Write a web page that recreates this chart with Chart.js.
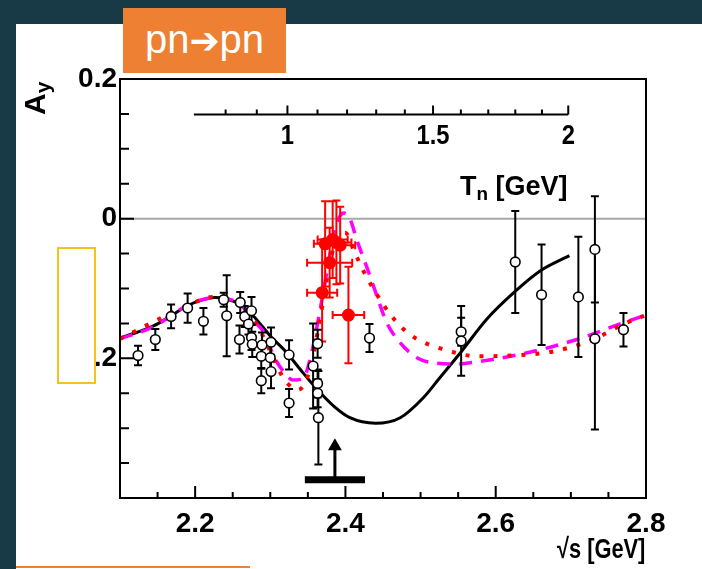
<!DOCTYPE html>
<html>
<head>
<meta charset="utf-8">
<script src="https://cdn.jsdelivr.net/npm/chart.js@4.4.1/dist/chart.umd.min.js"></script>
<style>
  html, body { margin: 0; padding: 0; }
  body { width: 702px; height: 569px; background: #183a47; position: relative; overflow: hidden; }
  .panel { position: absolute; left: 16px; top: 24px; width: 686px; height: 545px; background: #fff; }
  canvas { position: absolute; left: 0; top: 0; }
  .tag { position: absolute; left: 123px; top: 8px; width: 163px; height: 65px; background: #ed8033; color: #fff;
         font: 40px "Liberation Sans", Arial, sans-serif; line-height: 62px; text-align: center; }
  .tag span { font-family: "DejaVu Sans", sans-serif; font-size: 36px; }
  .lbl { position: absolute; font-family: "Liberation Sans", Arial, sans-serif; font-weight: bold; color: #000; white-space: nowrap; }
  .lbl sub { font-size: 70%; vertical-align: -0.25em; }
  .ay { left: 20px; top: 115px; font-size: 30px; line-height: 30px; transform-origin: 0 0; transform: rotate(-90deg); }
  .tn { left: 460px; top: 171px; font-size: 27px; }
  .sqs { right: 57px; top: 533px; font-size: 28px; transform-origin: 100% 50%; transform: scaleX(0.78); }
  .box { position: absolute; left: 57px; top: 247px; width: 39px; height: 137px; box-sizing: border-box; border: 2px solid #f5c21b; background: #fff; }
  .line { position: absolute; left: 16px; top: 566px; width: 234px; height: 2px; background: #ed8033; }
</style>
</head>
<body>
<div class="panel"></div>
<canvas id="ayChart" width="702" height="569"></canvas>
<div class="tag">pn<span>➔</span>pn</div>
<div class="lbl ay">A<sub>y</sub></div>
<div class="lbl tn">T<sub>n</sub> [GeV]</div>
<div class="lbl sqs">√s [GeV]</div>
<div class="box"></div>
<div class="line"></div>
<script>
// data (x = sqrt(s) in GeV, y = A_y)
const openX = [2.124, 2.147, 2.168, 2.190, 2.211, 2.238, 2.242, 2.260, 2.259, 2.266, 2.275, 2.271, 2.275, 2.276,
  2.289, 2.288, 2.288, 2.301, 2.300, 2.301, 2.325, 2.325, 2.357, 2.363, 2.363, 2.363, 2.364, 2.432,
  2.554, 2.554, 2.626, 2.661, 2.710, 2.732, 2.732, 2.770];
const openY = [-0.196, -0.173, -0.140, -0.128, -0.147, -0.116, -0.139, -0.120, -0.173, -0.140, -0.132, -0.151, -0.170, -0.180,
  -0.181, -0.197, -0.232, -0.177, -0.199, -0.219, -0.195, -0.264, -0.211, -0.179, -0.236, -0.250, -0.285, -0.171,
  -0.162, -0.175, -0.062, -0.109, -0.112, -0.044, -0.172, -0.159];
const openErr = [0.014, 0.015, 0.017, 0.021, 0.019, 0.010, 0.058, 0.015, 0.020, 0.015, 0.020, 0.015, 0.018, 0.018,
  0.018, 0.018, 0.018, 0.021, 0.018, 0.024, 0.021, 0.020, 0.061, 0.020, 0.020, 0.020, 0.067, 0.020,
  0.020, 0.050, 0.073, 0.072, 0.086, 0.076, 0.130, 0.024];

const redX = [2.369, 2.404, 2.373, 2.379, 2.383, 2.388, 2.393];
const redY = [-0.106, -0.138, -0.036, -0.063, -0.030, -0.034, -0.038];
const redXErr = [0.020, 0.021, 0.015, 0.030, 0.020, 0.020, 0.020];
const redYErr = [0.070, 0.069, 0.061, 0.050, 0.055, 0.060, 0.055];

const solidX = [2.1, 2.122, 2.144, 2.167, 2.189, 2.211, 2.226, 2.242, 2.26, 2.278, 2.3, 2.322, 2.34, 2.362, 2.384,
  2.406, 2.44, 2.473, 2.504, 2.524, 2.553, 2.588, 2.624, 2.659, 2.698];
const solidY = [-0.171, -0.163, -0.154, -0.140, -0.125, -0.116, -0.113, -0.115, -0.123, -0.140, -0.168, -0.192, -0.216, -0.244, -0.268,
  -0.285, -0.293, -0.285, -0.256, -0.230, -0.192, -0.144, -0.106, -0.075, -0.053];

const dashX = [2.1, 2.144, 2.189, 2.224, 2.26, 2.278, 2.291, 2.306, 2.317, 2.33, 2.344, 2.355, 2.364, 2.375, 2.386,
  2.398, 2.406, 2.415, 2.428, 2.442, 2.455, 2.473, 2.495, 2.522, 2.55, 2.575, 2.642, 2.708, 2.77, 2.8];
const dashY = [-0.172, -0.155, -0.125, -0.113, -0.123, -0.147, -0.162, -0.200, -0.218, -0.231, -0.228, -0.192, -0.144, -0.078, -0.015,
  0.008, 0.000, -0.030, -0.068, -0.111, -0.149, -0.178, -0.199, -0.207, -0.208, -0.205, -0.192, -0.173, -0.149, -0.138];

const dotX = [2.1, 2.189, 2.224, 2.26, 2.28, 2.3, 2.313, 2.322, 2.337, 2.35, 2.36, 2.37, 2.38, 2.39, 2.4,
  2.411, 2.424, 2.451, 2.468, 2.486, 2.504, 2.53, 2.575, 2.619, 2.677, 2.73, 2.77, 2.8];
const dotY = [-0.172, -0.125, -0.112, -0.122, -0.148, -0.190, -0.220, -0.235, -0.245, -0.225, -0.180, -0.120, -0.060, -0.025, -0.020,
  -0.045, -0.075, -0.124, -0.148, -0.166, -0.177, -0.187, -0.197, -0.196, -0.190, -0.173, -0.151, -0.138];

// threshold bar and arrow
const barX = [2.346, 2.426];
const barY = -0.374;
const arrowX = 2.386;
const arrowTop = -0.33;
const arrowHeadY = -0.326;

const xTickLabels = [2.2, 2.4, 2.6, 2.8];
const yTickLabels = [0.2, 0, -0.2];
const tnMajor = [1, 1.5, 2];
const tnMinor = [0.8, 0.9, 1.1, 1.2, 1.3, 1.4, 1.6, 1.7, 1.8, 1.9];
const tnStart = 0.7;
const tnAxisY = 0.149;
const nucleonMass = 0.938;

const pts = (xs, ys) => xs.map((x, i) => ({ x: x, y: ys[i] }));
const isIn = (v, list) => list.some(l => Math.abs(v - l) < 1e-6);
const sqrtS = t => Math.sqrt(4 * nucleonMass * nucleonMass + 2 * nucleonMass * t);
const labelFont = '"Liberation Sans", Arial, sans-serif';

const errorBars = {
    id: 'errorBars',
    beforeDatasetDraw(chart, args) {
        const ds = chart.data.datasets[args.index];
        if (!ds.yErr) return;
        const { ctx, scales: { x, y } } = chart;
        ctx.save();
        ctx.strokeStyle = ds.barColor;
        ctx.lineWidth = 2;
        ds.data.forEach((p, i) => {
            const px = x.getPixelForValue(p.x);
            const py = y.getPixelForValue(p.y);
            const t = y.getPixelForValue(p.y + ds.yErr[i]);
            const b = y.getPixelForValue(p.y - ds.yErr[i]);
            ctx.beginPath();
            ctx.moveTo(px, t); ctx.lineTo(px, b);
            ctx.moveTo(px - 4, t); ctx.lineTo(px + 4, t);
            ctx.moveTo(px - 4, b); ctx.lineTo(px + 4, b);
            if (ds.xErr) {
                const l = x.getPixelForValue(p.x - ds.xErr[i]);
                const r = x.getPixelForValue(p.x + ds.xErr[i]);
                ctx.moveTo(l, py); ctx.lineTo(r, py);
                ctx.moveTo(l, py - 4); ctx.lineTo(l, py + 4);
                ctx.moveTo(r, py - 4); ctx.lineTo(r, py + 4);
            }
            ctx.stroke();
        });
        ctx.restore();
    },
};

const frameTicks = {
    id: 'frameTicks',
    afterDraw(chart) {
        const { ctx, chartArea: a, scales: { x, y } } = chart;
        ctx.save();
        ctx.strokeStyle = '#000';
        ctx.lineWidth = 2;
        ctx.strokeRect(a.left, a.top, a.right - a.left, a.bottom - a.top);
        ctx.beginPath();
        x.ticks.forEach(t => {
            const px = x.getPixelForValue(t.value);
            ctx.moveTo(px, a.bottom);
            ctx.lineTo(px, a.bottom - (isIn(t.value, xTickLabels) ? 12 : 6));
        });
        y.ticks.forEach(t => {
            const py = y.getPixelForValue(t.value);
            ctx.moveTo(a.left, py);
            ctx.lineTo(a.left + (isIn(t.value, yTickLabels) ? 14 : 9), py);
        });
        ctx.stroke();

        // T_n axis drawn inside the frame
        const ly = y.getPixelForValue(tnAxisY);
        ctx.beginPath();
        ctx.moveTo(x.getPixelForValue(sqrtS(tnStart)), ly);
        ctx.lineTo(x.getPixelForValue(sqrtS(2)), ly);
        tnMinor.forEach(t => {
            const px = x.getPixelForValue(sqrtS(t));
            ctx.moveTo(px, ly); ctx.lineTo(px, ly - 5);
        });
        tnMajor.forEach(t => {
            const px = x.getPixelForValue(sqrtS(t));
            ctx.moveTo(px, ly); ctx.lineTo(px, ly - 9);
        });
        ctx.stroke();
        ctx.fillStyle = '#000';
        ctx.font = 'bold 28px ' + labelFont;
        ctx.textAlign = 'center';
        ctx.textBaseline = 'top';
        tnMajor.forEach(t => {
            ctx.save();
            ctx.translate(x.getPixelForValue(sqrtS(t)), ly + 8);
            ctx.scale(0.85, 1);
            ctx.fillText(String(t), 0, 0);
            ctx.restore();
        });
        ctx.restore();
    },
};

const ayChart = new Chart(document.querySelector('#ayChart'), {
    type: 'scatter',
    data: {
        datasets: [
            {
                data: pts(openX, openY),
                yErr: openErr,
                barColor: '#000',
                pointRadius: 4.8,
                pointBorderWidth: 1.6,
                borderColor: '#000',
                backgroundColor: '#fff',
            },
            {
                data: pts(redX, redY),
                yErr: redYErr,
                xErr: redXErr,
                barColor: '#ff0000',
                pointRadius: 6.5,
                pointBorderWidth: 0,
                borderColor: '#ff0000',
                backgroundColor: '#ff0000',
            },
            {
                data: [{ x: arrowX, y: arrowHeadY }],
                pointStyle: 'triangle',
                pointRadius: 8,
                borderWidth: 0,
                backgroundColor: '#000',
            },
            {
                data: [{ x: arrowX, y: barY }, { x: arrowX, y: arrowTop }],
                showLine: true,
                pointRadius: 0,
                borderColor: '#000',
                borderWidth: 3,
            },
            {
                data: [{ x: barX[0], y: barY }, { x: barX[1], y: barY }],
                showLine: true,
                pointRadius: 0,
                borderColor: '#000',
                borderWidth: 7,
            },
            {
                data: pts(dotX, dotY),
                showLine: true,
                pointRadius: 0,
                borderColor: '#ff0000',
                borderWidth: 4,
                borderDash: [4, 10],
                cubicInterpolationMode: 'monotone',
            },
            {
                data: pts(dashX, dashY),
                showLine: true,
                pointRadius: 0,
                borderColor: '#ff00ff',
                borderWidth: 3.5,
                borderDash: [13, 9],
                cubicInterpolationMode: 'monotone',
            },
            {
                data: pts(solidX, solidY),
                showLine: true,
                pointRadius: 0,
                borderColor: '#000',
                borderWidth: 3,
                cubicInterpolationMode: 'monotone',
            },
            {
                data: [{ x: 2.1, y: 0 }, { x: 2.8, y: 0 }],
                showLine: true,
                pointRadius: 0,
                borderColor: '#a8a8a8',
                borderWidth: 2,
            },
        ],
    },
    options: {
        responsive: false,
        animation: false,
        layout: { padding: { left: 0, right: 56, top: 79, bottom: 21 } },
        scales: {
            x: {
                type: 'linear',
                min: 2.1,
                max: 2.8,
                afterFit: s => { s.height = 50; },
                grid: { display: false, drawTicks: false },
                border: { display: false },
                ticks: {
                    stepSize: 0.05,
                    autoSkip: false,
                    maxRotation: 0,
                    padding: 9,
                    color: '#000',
                    font: { family: labelFont, size: 28, weight: 'bold' },
                    callback: v => (isIn(v, xTickLabels) ? v.toFixed(1) : ''),
                },
            },
            y: {
                type: 'linear',
                min: -0.4,
                max: 0.2,
                afterFit: s => { s.width = 120; },
                grid: { display: false, drawTicks: false },
                border: { display: false },
                ticks: {
                    stepSize: 0.05,
                    autoSkip: false,
                    padding: 3,
                    color: '#000',
                    font: { family: labelFont, size: 28, weight: 'bold' },
                    callback: v => (isIn(v, yTickLabels) ? String(Math.round(v * 10) / 10) : ''),
                },
            },
        },
        plugins: {
            legend: { display: false },
            tooltip: { enabled: false },
        },
    },
    plugins: [errorBars, frameTicks],
});
</script>
</body>
</html>
